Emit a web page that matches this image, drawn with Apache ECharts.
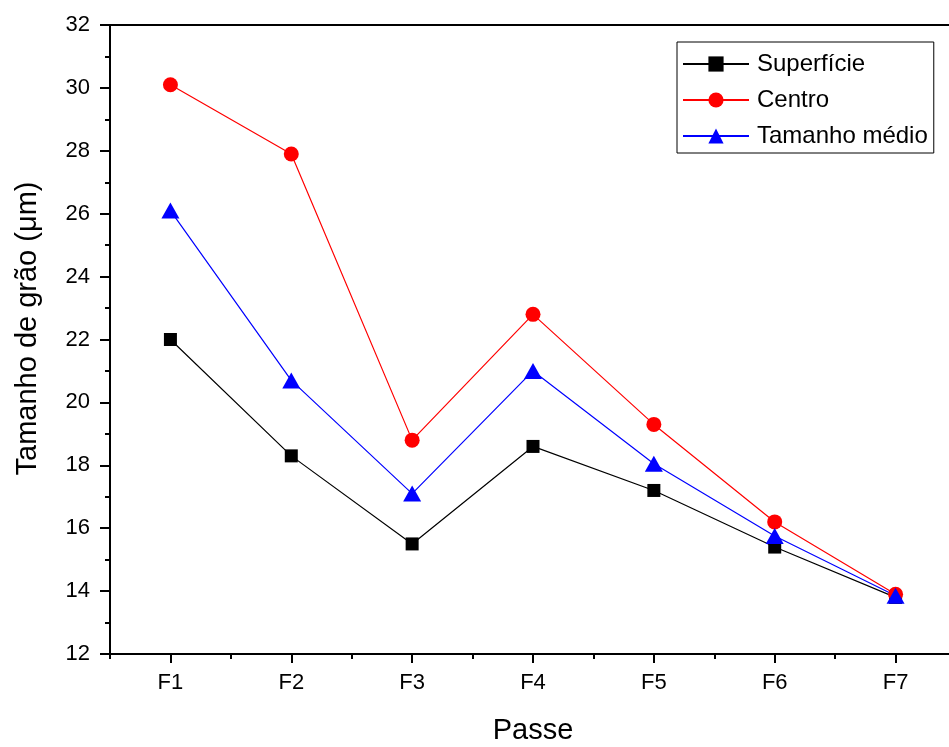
<!DOCTYPE html>
<html>
<head>
<meta charset="utf-8">
<title>Tamanho de grão por passe</title>
<script src="https://cdn.jsdelivr.net/npm/echarts@6/dist/echarts.min.js"></script>
<style>
  html, body { margin: 0; padding: 0; background: #fff; }
  #chart { width: 949px; height: 747px; }
</style>
</head>
<body>
<div id="chart"></div>
<script>
// Grain size (µm) measured after each rolling pass
const passes = ['F1', 'F2', 'F3', 'F4', 'F5', 'F6', 'F7'];
const superficie = [22.0, 18.3, 15.5, 18.6, 17.2, 15.4, 13.8];
const centro = [30.1, 27.9, 18.8, 22.8, 19.3, 16.2, 13.9];
const tamanhoMedio = [26.1, 20.7, 17.1, 21.0, 18.05, 15.75, 13.85];

const yMin = 12, yMax = 32, yStep = 2;
const FONT = '"Liberation Sans", Arial, sans-serif';

const chart = echarts.init(document.getElementById('chart'), null, { renderer: 'canvas' });

function lineSeries(name, data, color, symbol, size) {
  return {
    name: name,
    type: 'line',
    data: data,
    symbol: symbol,
    symbolSize: size,
    showSymbol: true,
    lineStyle: { color: color, width: 1.2 },
    itemStyle: { color: color, borderWidth: 0 },
    emphasis: { disabled: true },
    animation: false
  };
}

chart.setOption({
  backgroundColor: '#fff',
  animation: false,
  textStyle: { fontFamily: FONT },
  grid: {
    left: 110, top: 25, width: 846, height: 629,
    outerBoundsMode: 'none',
    containLabel: false,
    show: false
  },
  legend: {
    left: 677, top: 42,
    orient: 'vertical',
    data: ['Superfície', 'Centro', 'Tamanho médio'],
    itemWidth: 66, itemHeight: 19, itemGap: 12,
    padding: [10, 6, 5, 5],
    borderColor: '#000', borderWidth: 1,
    textStyle: { fontSize: 24, color: '#000', fontFamily: FONT, lineHeight: 24, padding: [0, 0, 0, 3] },
    selectedMode: false
  },
  xAxis: [
    {
      type: 'category',
      data: passes,
      position: 'bottom',
      boundaryGap: true,
      name: 'Passe',
      nameLocation: 'middle',
      nameGap: 62,
      nameTextStyle: { fontSize: 29, color: '#000', fontFamily: FONT },
      axisLine: { show: true, lineStyle: { color: '#000', width: 2 } },
      axisTick: { show: true, alignWithLabel: true, length: 9, lineStyle: { color: '#000', width: 2 } },
      axisLabel: { fontSize: 22, color: '#000', margin: 18, fontFamily: FONT },
      splitLine: { show: false }
    },
    {
      // short ticks on the category boundaries
      type: 'category',
      data: passes,
      position: 'bottom',
      boundaryGap: true,
      axisLine: { show: false },
      axisTick: { show: true, length: 5, lineStyle: { color: '#000', width: 2 } },
      axisLabel: { show: false },
      splitLine: { show: false }
    },
    {
      // top frame line
      type: 'category',
      data: passes,
      position: 'top',
      boundaryGap: true,
      axisLine: { show: true, lineStyle: { color: '#000', width: 2 } },
      axisTick: { show: false },
      axisLabel: { show: false },
      splitLine: { show: false }
    }
  ],
  yAxis: {
    type: 'value',
    min: yMin, max: yMax, interval: yStep,
    name: 'Tamanho de grão (μm)',
    nameLocation: 'middle',
    nameGap: 68,
    nameTextStyle: { fontSize: 29, color: '#000', fontFamily: FONT, padding: [0, 0, 0, 22] },
    axisLine: { show: true, lineStyle: { color: '#000', width: 2 } },
    axisTick: { show: true, inside: false, length: 10, lineStyle: { color: '#000', width: 2 } },
    minorTick: { show: true, splitNumber: 2, length: 5, lineStyle: { color: '#000', width: 2 } },
    axisLabel: { fontSize: 22, color: '#000', margin: 20, fontFamily: FONT },
    splitLine: { show: false },
    minorSplitLine: { show: false }
  },
  series: [
    lineSeries('Superfície', superficie, '#000000', 'rect', 13),
    lineSeries('Centro', centro, '#ff0000', 'circle', 15),
    lineSeries('Tamanho médio', tamanhoMedio, '#0000ff', 'triangle', [18, 16])
  ]
});
</script>
</body>
</html>
